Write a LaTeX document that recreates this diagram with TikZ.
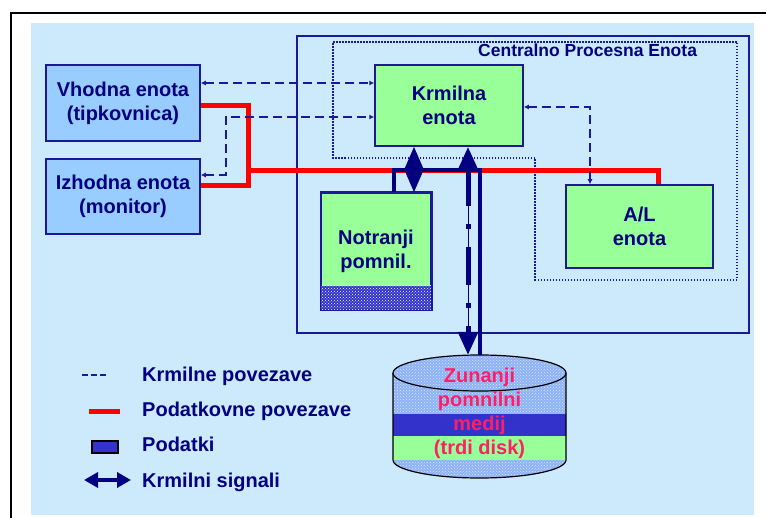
\documentclass[tikz,border=0pt]{standalone}
\usepackage{fontspec}
\setmainfont{Liberation Sans}
\usetikzlibrary{arrows.meta,patterns}
\definecolor{navyt}{HTML}{000080}
\definecolor{navyl}{HTML}{1A1A99}
\definecolor{bgblue}{HTML}{CCEAFC}
\definecolor{boxblue}{HTML}{99CCFF}
\definecolor{boxgreen}{HTML}{99FF99}
\definecolor{datablue}{HTML}{3333CC}
\definecolor{diskblue}{HTML}{8DB2F6}
\definecolor{pinktxt}{HTML}{FF1F66}
\definecolor{redl}{HTML}{FF0000}
\begin{document}
\begin{tikzpicture}[x=1pt,y=-1pt,
  unit/.style={draw=navyl, line width=1.5pt, inner sep=0pt, align=center, text=navyt, font=\fontsize{20}{24}\selectfont\bfseries},
  ctrl/.style={draw=navyl, line width=1.5pt, dash pattern=on 9pt off 5pt, {Latex[length=5pt,width=5pt]}-{Latex[length=5pt,width=5pt]}},
  dataline/.style={draw=redl, line width=5pt},
  bus/.style={draw=navyt, line width=4.5pt},
  sig/.style={draw=navyt, line width=3pt, {Triangle[length=23pt,width=19pt]}-{Triangle[length=23pt,width=19pt]}},
  lbl/.style={text=navyt, font=\fontsize{20}{24}\selectfont\bfseries, anchor=base west, inner sep=0pt}
]
\useasboundingbox (0,0) rectangle (766,518);
\fill[white] (0,0) rectangle (766,518);
\fill[bgblue] (31,23) rectangle (754,515);
\draw[black, line width=2.5pt] (11,518) -- (11,13) -- (766,13);

% CPU frame and dotted region
\draw[navyl, line width=1.5pt] (297,36) rectangle (749,333);
\draw[navyl, line width=1.2pt, dash pattern=on 1.5pt off 1.5pt] (333,42) -- (737,42) -- (737,280) -- (535,280) -- (535,158) -- (333,158) -- cycle;
\node[text=navyt, font=\fontsize{17.5}{20}\selectfont\bfseries, anchor=base west, inner sep=0pt] (cpu) at (478,57) {Centralno Procesna Enota};

% units
\node[unit, fill=boxblue, minimum width=154pt, minimum height=76pt] (vh) at (123,103) {Vhodna enota\\(tipkovnica)};
\node[unit, fill=boxblue, minimum width=154pt, minimum height=75pt] (iz) at (123,196.5) {Izhodna enota\\(monitor)};
\node[unit, fill=boxgreen, minimum width=148pt, minimum height=81pt] (kr) at (449,105.5) {Krmilna\\enota};
\node[unit, fill=boxgreen, minimum width=147pt, minimum height=83pt] (al) at (639.5,226.5) {A/L\\enota};
\node[unit, fill=boxgreen, minimum width=110pt, minimum height=117pt] (np) at (376,251.5) {Notranji\\pomnil.};
\fill[datablue] ([yshift=25pt]np.south west) rectangle (np.south east);
\fill[pattern=crosshatch dots, pattern color=white] ([yshift=25pt]np.south west) rectangle (np.south east);
\draw[navyl, line width=1.5pt] (np.north west) rectangle (np.south east);

% disk
\coordinate (dkc) at (479.5,413);
\begin{scope}
  \clip (393,373) -- (393,460) arc[start angle=180, end angle=0, x radius=86.5, y radius=18] -- (566,373) arc[start angle=0, end angle=-180, x radius=86.5, y radius=18] -- cycle;
  \fill[diskblue] (390,350) rectangle (570,480);
  \fill[pattern=crosshatch dots, pattern color=white!70!diskblue] (390,350) rectangle (570,480);
  \fill[datablue] (390,414) rectangle (570,436);
  \fill[boxgreen] (390,436) rectangle (570,460);
\end{scope}
\draw[black, line width=1.2pt] (393,373) -- (393,460) arc[start angle=180, end angle=0, x radius=86.5, y radius=18] -- (566,373);
\draw[black, line width=1.2pt] (479.5,373) ellipse[x radius=86.5, y radius=18];
\node[text=pinktxt, font=\fontsize{20}{24}\selectfont\bfseries, align=center, inner sep=0pt] (dk) at (dkc) {Zunanji\\pomnilni\\medij\\(trdi disk)};
\coordinate (dktop) at (480,355);
\coordinate (dksig) at (468,355);

% data (red) lines
\coordinate (r1) at ([yshift=-3pt]vh.east);
\coordinate (r2) at ([yshift=10.5pt]iz.east);
\coordinate (r3) at ([xshift=18.5pt]al.north);
\coordinate (rj) at (248,171);
\draw[dataline] (r1) -- ++(48,0) |- (r2);
\draw[dataline] (rj) -| (r3);

% data bus (navy)
\coordinate (b1) at ([xshift=18pt]np.north);
\coordinate (bj) at (480,170);
\draw[bus] (b1) |- (bj) -- (dktop);

% control (dashed) lines
\coordinate (c1a) at ([yshift=20pt]vh.east);
\draw[ctrl] (c1a) -- (c1a -| kr.west);
\coordinate (c2a) at ([yshift=21.5pt]iz.east);
\coordinate (c2b) at ([yshift=-11.5pt]kr.west);
\draw[ctrl] (c2a) -- ++(25,0) |- (c2b);
\coordinate (c3a) at ([yshift=-1.5pt]kr.east);
\coordinate (c3b) at ([xshift=-49.5pt]al.north);
\draw[ctrl] (c3a) -| (c3b);

% control signals
\draw[sig] ([xshift=-35pt]kr.south) -- ([xshift=38pt]np.north);
\coordinate (s2a) at ([xshift=19pt]kr.south);
\draw[navyt, line width=1pt, shorten <=20pt, shorten >=20pt] (s2a) -- (dksig);
\draw[sig, line width=5pt, dash pattern=on 38pt off 18pt on 5pt off 18pt] (s2a) -- (dksig);

% legend
\draw[navyl, line width=1.2pt, dash pattern=on 6pt off 3pt] (82,375) -- (108,375);
\node[lbl] (l1) at (142,382) {Krmilne povezave};
\draw[redl, line width=5pt] (89,412) -- (120,412);
\node[lbl] (l2) at (142,417) {Podatkovne povezave};
\draw[black, line width=1.5pt, fill=datablue] (92,441) rectangle (118,453);
\node[lbl] (l3) at (142,452) {Podatki};
\draw[navyt, line width=3.5pt, {Triangle[length=14pt,width=15pt]}-{Triangle[length=14pt,width=15pt]}] (84,480) -- (131,480);
\node[lbl] (l4) at (142,487) {Krmilni signali};
\end{tikzpicture}
\end{document}
